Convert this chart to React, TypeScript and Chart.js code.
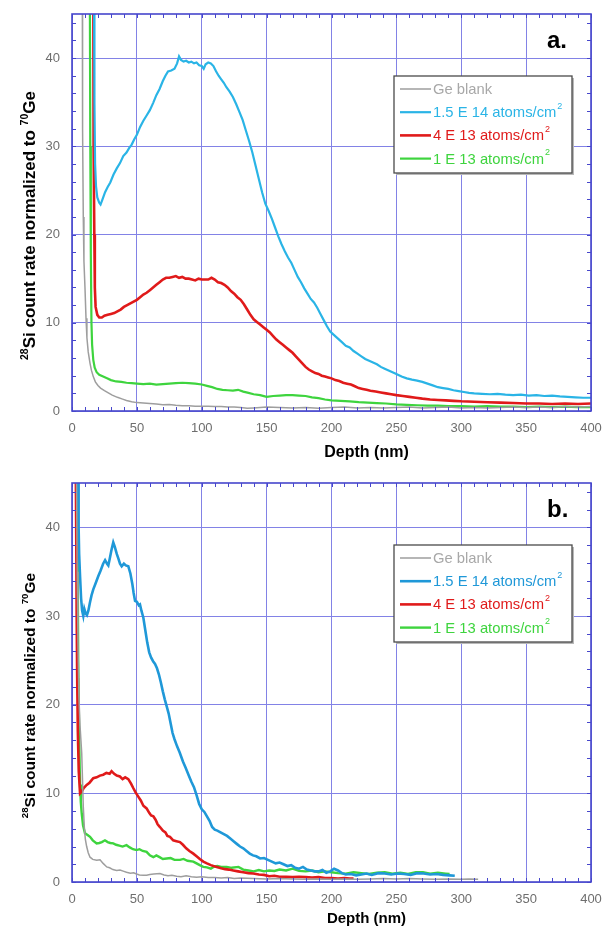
import { useEffect, useRef } from 'react';
import { Chart, registerables } from 'chart.js';

Chart.register(...registerables);

// ---------- data ----------
const LEGEND_LABELS = ['Ge blank', '1.5 E 14 atoms/cm', '4 E 13 atoms/cm', '1 E 13 atoms/cm'];
const LEGEND_SUPS = ['', '2', '2', '2'];
const X_TITLE = 'Depth (nm)';
const Y_TITLE_PARTS = [
  { text: '28', sup: true },
  { text: 'Si count rate normalized to ', sup: false },
  { text: '70', sup: true },
  { text: 'Ge', sup: false },
];
const PANEL_LABELS = ['a.', 'b.'];

type P = [number, number];

const aGrey: P[] = [
  [7.8, 60], [8, 45], [8.3, 32], [8.7, 22], [9.2, 17], [10, 14], [10.8, 10.5], [11.5, 8.3], [12.5, 6.7], [13.9, 5.4],
  [15, 4.6], [16.4, 3.9], [18, 3.3], [20, 2.9], [22, 2.6], [25, 2.3], [28, 2.05], [31, 1.8], [35, 1.55], [39, 1.35],
  [42, 1.2], [46, 1.05], [50, 0.95], [55, 0.9], [60, 0.85], [65, 0.8], [70, 0.7], [75, 0.75], [80, 0.65], [85, 0.6],
  [90, 0.6], [95, 0.55], [100, 0.55], [105, 0.55], [110, 0.5], [115, 0.5], [120, 0.45], [125, 0.45], [130, 0.4], [135, 0.3],
  [140, 0.35], [145, 0.4], [150, 0.45], [160, 0.4], [170, 0.35], [180, 0.4], [190, 0.3], [200, 0.4], [210, 0.45], [220, 0.35],
  [230, 0.4], [240, 0.35], [250, 0.4], [260, 0.45], [270, 0.35], [280, 0.4], [290, 0.45], [300, 0.35], [310, 0.4], [320, 0.35],
  [330, 0.4], [340, 0.45], [350, 0.4], [360, 0.45], [370, 0.4], [380, 0.5], [390, 0.45], [400, 0.5],
];

const aBlue: P[] = [
  [16.8, 60], [17, 45], [17.3, 35], [17.8, 28], [18.5, 25.5], [19.5, 24.2], [21, 23.6], [22, 23.4], [23.5, 24], [25.5, 24.8],
  [27.5, 25.4], [29.5, 25.9], [32, 26.8], [34.5, 27.5], [37, 28.1], [39.5, 28.9], [42, 29.3], [44, 29.8], [46, 30.2], [48, 30.8],
  [50, 31.3], [52.5, 32.2], [55, 32.9], [57.5, 33.5], [60, 34.1], [62.5, 34.9], [65, 35.8], [67.5, 36.5], [70, 37.4], [72, 38.0],
  [74, 38.5], [76.5, 38.6], [79, 38.8], [81, 39.4], [82.5, 40.2], [84, 39.8], [86, 39.6], [88, 39.7], [90, 39.5], [92, 39.6],
  [94, 39.4], [96, 39.5], [98, 39.2], [100, 39.1], [101.5, 38.8], [103, 39.3], [105, 39.5], [107, 39.4], [109, 39.1], [111, 38.5],
  [113, 38.0], [115, 37.6], [117, 37.2], [119, 36.7], [121.5, 36.2], [124, 35.6], [126.5, 34.8], [129, 33.9], [131.5, 33.0], [134, 31.8],
  [136.5, 30.6], [139, 29.3], [141.5, 27.8], [144, 26.3], [146.5, 24.8], [149, 23.5], [151.5, 22.7], [154, 21.8], [156.5, 20.8], [159, 19.8],
  [161.5, 18.9], [164, 18.1], [166.5, 17.4], [169, 16.8], [171.5, 16.0], [174, 15.2], [176.5, 14.6], [179, 13.9], [181.5, 13.3], [184, 12.7],
  [186.5, 12.3], [189, 11.7], [191.5, 11.0], [194, 10.3], [196.5, 9.6], [199, 9.0], [202, 8.6], [205, 8.2], [208, 7.8], [211, 7.4],
  [214, 7.2], [217, 6.8], [220, 6.5], [223, 6.2], [226, 5.9], [229, 5.7], [232, 5.5], [235, 5.3], [238, 5.0], [241, 4.8],
  [244, 4.6], [247, 4.4], [250, 4.2], [254, 3.9], [258, 3.7], [262, 3.55], [266, 3.45], [270, 3.3], [274, 3.1], [278, 2.9],
  [282, 2.7], [286, 2.6], [290, 2.5], [294, 2.35], [298, 2.25], [302, 2.15], [306, 2.05], [310, 2.0], [316, 1.95], [322, 1.9],
  [328, 1.95], [334, 1.85], [340, 1.8], [346, 1.85], [352, 1.75], [358, 1.8], [364, 1.7], [370, 1.75], [376, 1.65], [382, 1.6],
  [388, 1.55], [394, 1.5], [400, 1.5],
];

const aRed: P[] = [
  [16.3, 60], [16.5, 45], [16.8, 30], [17.2, 20], [17.6, 14], [18.2, 11.8], [19.5, 10.9], [21, 10.6], [23, 10.6], [25, 10.8],
  [27.5, 10.9], [30, 11.0], [32.5, 11.1], [35, 11.3], [37.5, 11.5], [40, 11.8], [42.5, 12.0], [45, 12.2], [47.5, 12.4], [50, 12.6],
  [52.5, 12.9], [55, 13.2], [57.5, 13.4], [60, 13.7], [62.5, 14.0], [65, 14.3], [67.5, 14.6], [70, 14.9], [72.5, 15.1], [75, 15.1],
  [77.5, 15.2], [80, 15.3], [82.5, 15.1], [85, 15.2], [87.5, 15.0], [90, 15.0], [92.5, 14.9], [95, 14.8], [97.5, 15.0], [100, 14.9],
  [102.5, 14.9], [105, 14.9], [107.5, 15.1], [110, 14.9], [112.5, 14.6], [115, 14.5], [117.5, 14.3], [120, 14.0], [122.5, 13.6], [125, 13.3],
  [127.5, 12.9], [130, 12.6], [132.5, 12.1], [135, 11.5], [137.5, 10.9], [140, 10.4], [142.5, 10.1], [145, 9.8], [147.5, 9.5], [150, 9.2],
  [152.5, 8.9], [155, 8.5], [157.5, 8.1], [160, 7.8], [162.5, 7.5], [165, 7.2], [167.5, 6.9], [170, 6.6], [172.5, 6.2], [175, 5.8],
  [177.5, 5.4], [180, 5.0], [182.5, 4.7], [185, 4.5], [187.5, 4.3], [190, 4.2], [192.5, 4.0], [195, 3.9], [197.5, 3.8], [200, 3.7],
  [203, 3.5], [206, 3.4], [209, 3.2], [212, 3.1], [215, 3.0], [218, 2.8], [221, 2.6], [224, 2.5], [227, 2.4], [230, 2.3],
  [234, 2.2], [238, 2.1], [242, 2.0], [246, 1.9], [250, 1.8], [255, 1.7], [260, 1.6], [265, 1.5], [270, 1.4], [276, 1.3],
  [282, 1.25], [288, 1.2], [294, 1.15], [300, 1.1], [310, 1.05], [320, 1.0], [330, 0.95], [340, 0.9], [350, 0.85], [360, 0.85],
  [370, 0.8], [380, 0.85], [390, 0.8], [400, 0.85],
];

const aGreen: P[] = [
  [13.6, 60], [13.8, 45], [14.1, 30], [14.5, 18], [15, 10], [15.5, 7.5], [16.4, 5.8], [17.5, 4.9], [19, 4.4], [21, 4.1],
  [24, 3.9], [27, 3.7], [30, 3.5], [34, 3.35], [38, 3.3], [42, 3.2], [46, 3.15], [50, 3.1], [55, 3.05], [60, 3.1],
  [65, 3.0], [70, 3.05], [75, 3.1], [80, 3.15], [85, 3.2], [90, 3.15], [95, 3.1], [100, 3.0], [104, 2.85], [108, 2.7],
  [112, 2.5], [116, 2.4], [120, 2.35], [124, 2.3], [128, 2.4], [132, 2.2], [136, 2.05], [140, 1.9], [145, 1.8], [150, 1.6],
  [155, 1.7], [160, 1.75], [165, 1.8], [170, 1.8], [175, 1.75], [180, 1.7], [185, 1.55], [190, 1.45], [195, 1.3], [200, 1.2],
  [207, 1.15], [214, 1.1], [221, 1.0], [228, 0.95], [235, 0.9], [242, 0.85], [250, 0.75], [258, 0.7], [266, 0.65], [274, 0.6],
  [282, 0.6], [290, 0.55], [300, 0.55], [310, 0.5], [320, 0.55], [330, 0.5], [340, 0.5], [350, 0.45], [360, 0.5], [370, 0.45],
  [380, 0.5], [390, 0.45], [400, 0.45],
];

const bGrey: P[] = [
  [3.2, 60], [3.5, 45], [4, 35], [4.6, 27], [5.3, 21], [6.2, 17.6], [7.5, 14.5], [8.2, 11], [8.7, 8.5], [9.5, 6.2],
  [10.3, 4.8], [11.3, 4.0], [12.5, 3.3], [13.9, 2.8], [16, 2.55], [19, 2.45], [21.6, 2.5], [24, 2.1], [26.8, 1.7], [29, 1.6],
  [31.5, 1.4], [34.4, 1.3], [37, 1.35], [40, 1.2], [42, 1.1], [45, 1.0], [47.5, 1.05], [49.8, 0.9], [52, 0.8], [55, 0.75],
  [57.5, 0.76], [60, 0.85], [63, 0.9], [67.8, 0.95], [71, 0.8], [74, 0.7], [77, 0.75], [80.7, 0.65], [84, 0.6], [88, 0.7],
  [92, 0.6], [96, 0.55], [100, 0.6], [105, 0.5], [110, 0.5], [115, 0.45], [120, 0.5], [125, 0.4], [130, 0.45], [140, 0.4],
  [150, 0.35], [160, 0.4], [170, 0.35], [180, 0.3], [190, 0.35], [200, 0.3], [210, 0.35], [220, 0.3], [230, 0.35], [240, 0.4],
  [250, 0.35], [260, 0.4], [270, 0.35], [280, 0.3], [290, 0.35], [300, 0.3], [306, 0.35], [313, 0.3],
];

const bBlue: P[] = [
  [4.6, 60], [4.8, 45], [5.1, 40], [5.5, 37], [6.2, 34.5], [7, 32], [7.8, 30.6], [8.7, 30.0], [9.5, 30.8], [10.5, 30.3],
  [11.5, 30.1], [12.6, 30.6], [13.8, 31.5], [15, 32.3], [16.4, 33.0], [18, 33.6], [20.3, 34.5], [22, 35.1], [24, 35.9], [25.5, 36.3],
  [27, 35.9], [28, 35.7], [29, 36.4], [30.5, 37.5], [31.8, 38.3], [33, 37.8], [34.5, 37.0], [35.7, 36.5], [37, 35.9], [38.3, 35.6],
  [40, 35.9], [41.5, 35.7], [43.4, 35.6], [45, 34.8], [46.5, 33.6], [47.5, 32.6], [48.6, 31.7], [50, 31.6], [51.5, 31.2], [52.4, 31.3],
  [53.5, 30.6], [55, 29.8], [56.5, 28.4], [58, 27.0], [59.5, 25.9], [61, 25.3], [62.5, 24.9], [64, 24.6], [65.5, 24.1], [67, 23.4],
  [68.5, 22.5], [70, 21.5], [71.5, 20.6], [73, 19.8], [74.5, 19.0], [76, 17.9], [77.5, 16.8], [79, 16.1], [81, 15.3], [83, 14.6],
  [85.5, 13.6], [87.5, 12.9], [90, 12.0], [92, 11.3], [94, 10.7], [96, 9.8], [98, 8.8], [100, 8.2], [102, 7.9], [104, 7.4],
  [106, 6.9], [108, 6.2], [110, 5.9], [112, 5.8], [114.5, 5.6], [117, 5.4], [119.5, 5.2], [122, 4.9], [124.5, 4.6], [127, 4.3],
  [129.5, 4.0], [132, 3.8], [134.5, 3.5], [137, 3.2], [139.5, 3.0], [142, 2.9], [145, 2.65], [148, 2.7], [151, 2.5], [154, 2.3],
  [157, 2.1], [160, 2.2], [163, 2.0], [166, 1.8], [169, 1.9], [172, 1.6], [175, 1.5], [178, 1.7], [181, 1.4], [184, 1.3],
  [187, 1.2], [190, 1.2], [193, 1.35], [196, 1.05], [199, 1.2], [202, 1.5], [205, 1.3], [208, 1.0], [211, 0.85], [215, 0.9],
  [219, 0.75], [223, 0.85], [227, 0.95], [231, 0.8], [236, 1.0], [241, 0.95], [246, 0.85], [251, 0.95], [256, 0.9], [261, 0.8],
  [266, 1.0], [271, 0.95], [276, 0.85], [281, 0.9], [286, 0.8], [291, 0.75], [295, 0.7],
];

const bRed: P[] = [
  [2.8, 60], [3, 45], [3.3, 38], [3.6, 30], [4, 23], [4.5, 17], [5.2, 12.5], [6.2, 10.0], [7.5, 10.2], [9, 10.6],
  [11.3, 10.95], [13.5, 11.2], [16.4, 11.7], [19, 11.8], [21.5, 12.0], [24.1, 12.1], [26.5, 12.3], [29, 12.2], [30.5, 12.5], [32.5, 12.2],
  [34.5, 12.0], [36.9, 11.9], [39, 11.6], [41, 11.8], [43.4, 11.6], [45.5, 11.1], [47.2, 10.6], [49, 10.1], [51.2, 9.6], [53, 9.2],
  [55, 8.6], [57.5, 8.3], [59.5, 7.8], [61, 7.5], [62.7, 7.4], [64.5, 7.0], [66, 6.5], [67.8, 6.2], [70, 5.8], [72, 5.6],
  [73.5, 5.2], [75.5, 5.1], [78, 4.7], [80.5, 4.6], [83.2, 4.5], [85.5, 4.2], [88, 3.8], [90.5, 3.5], [93.5, 3.2], [96, 2.9],
  [98.5, 2.6], [101.2, 2.3], [104, 2.1], [107, 1.9], [109, 1.8], [111.5, 1.7], [115, 1.55], [118, 1.45], [121, 1.4], [124.3, 1.3],
  [128, 1.2], [132, 1.1], [136, 1.0], [139.7, 0.95], [144, 0.85], [148, 0.8], [152, 0.65], [156, 0.7], [160, 0.6], [165, 0.6],
  [170, 0.55], [175, 0.6], [180, 0.55], [185, 0.5], [190, 0.55], [195, 0.45], [200, 0.45], [205, 0.4], [210, 0.45], [214, 0.4],
  [217, 0.4],
];

const bGreen: P[] = [
  [3.8, 60], [4.2, 40], [4.8, 25], [5.5, 16], [6.2, 11], [6.8, 9.0], [7.5, 7.7], [8.5, 6.4], [10, 5.5], [12, 5.3],
  [13.9, 5.1], [16, 4.7], [19, 4.35], [21, 4.4], [23, 4.5], [25.4, 4.7], [27.5, 4.5], [29.5, 4.4], [31.8, 4.35], [34, 4.2],
  [36.5, 4.1], [39, 4.0], [42, 4.15], [44.5, 3.9], [47, 3.7], [49.8, 3.6], [52, 3.7], [54.5, 3.5], [57.5, 3.4], [60, 3.0],
  [62.7, 2.8], [65, 3.0], [67.5, 2.8], [70, 2.6], [73, 2.65], [76, 2.7], [79, 2.5], [83.2, 2.5], [86, 2.6], [89, 2.4],
  [93.5, 2.3], [96, 2.1], [98.5, 1.9], [101.2, 1.7], [104, 1.65], [107, 1.5], [109, 1.7], [112, 1.8], [115, 1.7], [119.2, 1.7],
  [123, 1.6], [128.3, 1.7], [132, 1.4], [136, 1.3], [140, 1.2], [144, 1.35], [148, 1.2], [152, 1.3], [156, 1.25], [160, 1.4],
  [165, 1.3], [170, 1.5], [175, 1.25], [180, 1.2], [185, 1.3], [190, 1.1], [195, 1.2], [200, 1.1], [205, 1.0], [211, 0.95],
  [217, 1.1], [223, 1.0], [229, 0.9], [235, 1.05], [241, 1.1], [247, 0.95], [253, 1.05], [259, 0.9], [265, 1.1], [270.5, 1.1],
  [276, 0.95], [282, 1.05], [288, 0.95], [291, 0.9],
];

// ---------- styles ----------
const GREY = '#9e9e9e';
const BLUE_A = '#2ab4e6';
const BLUE_B = '#1f98d8';
const RED = '#e01a1a';
const GREEN = '#3ed43e';
const LEGEND_TEXT_GREY = '#a8a8a8';
const GRID = '#8282e6';
const FRAME = '#4646cc';
const TICK_TEXT = '#6e6e6e';

type Panel = {
  series: P[][];
  colors: string[];
  widths: number[];
  label: string;
  height: number;
  padTop: number;
  xAxisH: number;
  xTitleDy: number;
  titleSize: number;
  yTitleSize: number;
};

const panels: Panel[] = [
  {
    series: [aGrey, aBlue, aRed, aGreen],
    colors: [GREY, BLUE_A, RED, GREEN],
    widths: [1.5, 2.2, 2.6, 2.2],
    label: PANEL_LABELS[0],
    height: 465,
    padTop: 14,
    xAxisH: 54,
    xTitleDy: 42,
    titleSize: 16,
    yTitleSize: 17,
  },
  {
    series: [bGrey, bBlue, bRed, bGreen],
    colors: [GREY, BLUE_B, RED, GREEN],
    widths: [1.5, 2.6, 2.6, 2.4],
    label: PANEL_LABELS[1],
    height: 462,
    padTop: 18,
    xAxisH: 45,
    xTitleDy: 37,
    titleSize: 15,
    yTitleSize: 15.5,
  },
];

const FONT = 'Arial, "Liberation Sans", Helvetica, sans-serif';

function drawRich(
  ctx: CanvasRenderingContext2D,
  parts: { text: string; sup: boolean }[],
  cx: number,
  cy: number,
  size: number,
  rotate: boolean,
  color: string
) {
  ctx.save();
  ctx.translate(cx, cy);
  if (rotate) ctx.rotate(-Math.PI / 2);
  ctx.fillStyle = color;
  ctx.textBaseline = 'alphabetic';
  ctx.textAlign = 'left';
  const supSize = size * 0.62;
  let total = 0;
  const widths: number[] = [];
  for (const p of parts) {
    ctx.font = `bold ${p.sup ? supSize : size}px ${FONT}`;
    const w = ctx.measureText(p.text).width;
    widths.push(w);
    total += w;
  }
  let x = -total / 2;
  parts.forEach((p, i) => {
    ctx.font = `bold ${p.sup ? supSize : size}px ${FONT}`;
    ctx.fillText(p.text, x, p.sup ? -size * 0.42 : 0);
    x += widths[i];
  });
  ctx.restore();
}

function makeDecor(panel: Panel) {
  return {
    id: 'decor',
    afterDraw(chart: any) {
      const ctx: CanvasRenderingContext2D = chart.ctx;
      const { left, right, top, bottom } = chart.chartArea;
      const xs = chart.scales.x;
      const ys = chart.scales.y;
      ctx.save();
      // frame
      ctx.strokeStyle = FRAME;
      ctx.lineWidth = 1.6;
      ctx.strokeRect(left, top, right - left, bottom - top);
      // minor ticks
      ctx.lineWidth = 1;
      ctx.beginPath();
      for (let v = 0; v <= 400; v += 10) {
        const px = Math.round(xs.getPixelForValue(v)) + 0.5;
        ctx.moveTo(px, bottom);
        ctx.lineTo(px, bottom - 4);
        ctx.moveTo(px, top);
        ctx.lineTo(px, top + 4);
      }
      for (let v = 0; v <= 45; v += 2) {
        const py = Math.round(ys.getPixelForValue(v)) + 0.5;
        ctx.moveTo(left, py);
        ctx.lineTo(left + 4, py);
        ctx.moveTo(right, py);
        ctx.lineTo(right - 4, py);
      }
      ctx.stroke();

      // legend
      const bx = 394;
      const by = top + 62;
      const bw = 178;
      const bh = 97;
      ctx.fillStyle = '#b8b8b8';
      ctx.fillRect(bx + 2, by + 2, bw, bh);
      ctx.fillStyle = '#ffffff';
      ctx.fillRect(bx, by, bw, bh);
      ctx.strokeStyle = '#4a4a4a';
      ctx.lineWidth = 1.3;
      ctx.strokeRect(bx, by, bw, bh);
      LEGEND_LABELS.forEach((lab, i) => {
        const ry = by + 13 + i * 23.2;
        ctx.strokeStyle = panel.colors[i];
        ctx.lineWidth = panel.widths[i];
        ctx.beginPath();
        ctx.moveTo(bx + 6, ry);
        ctx.lineTo(bx + 37, ry);
        ctx.stroke();
        ctx.fillStyle = i === 0 ? LEGEND_TEXT_GREY : panel.colors[i];
        ctx.font = `14.8px ${FONT}`;
        ctx.textAlign = 'left';
        ctx.textBaseline = 'middle';
        ctx.fillText(lab, bx + 39, ry + 1);
        if (LEGEND_SUPS[i]) {
          const w = ctx.measureText(lab).width;
          ctx.font = `9px ${FONT}`;
          ctx.fillText(LEGEND_SUPS[i], bx + 39 + w + 1, ry - 6);
        }
      });

      // panel label
      ctx.fillStyle = '#000';
      ctx.font = `bold 24px ${FONT}`;
      ctx.textAlign = 'left';
      ctx.textBaseline = 'alphabetic';
      ctx.fillText(panel.label, 547, top + 34);

      // axis titles
      ctx.font = `bold ${panel.titleSize}px ${FONT}`;
      ctx.textAlign = 'center';
      ctx.textBaseline = 'middle';
      ctx.fillStyle = '#000';
      ctx.fillText(X_TITLE, (left + right) / 2 + 35, bottom + panel.xTitleDy);
      drawRich(ctx, Y_TITLE_PARTS, 35, (top + bottom) / 2 + 13, panel.yTitleSize, true, '#000');
      ctx.restore();
    },
  };
}

function makeConfig(panel: Panel): any {
  return {
    type: 'line',
    data: {
      datasets: panel.series.map((s, i) => ({
        label: LEGEND_LABELS[i],
        data: s.map(([x, y]) => ({ x, y })),
        borderColor: panel.colors[i],
        borderWidth: panel.widths[i],
        pointRadius: 0,
        tension: 0,
        fill: false,
      })),
    },
    options: {
      animation: false,
      responsive: false,
      events: [],
      layout: { padding: { top: panel.padTop, right: 12, left: 0, bottom: 0 } },
      plugins: { legend: { display: false }, tooltip: { enabled: false } },
      scales: {
        x: {
          type: 'linear',
          min: 0,
          max: 400,
          ticks: { stepSize: 50, color: TICK_TEXT, font: { family: FONT, size: 13 }, padding: 10, maxRotation: 0 },
          grid: { color: GRID, lineWidth: 1, drawTicks: false },
          border: { display: false },
          afterFit: (s: any) => {
            s.height = panel.xAxisH;
            s.paddingLeft = 0;
            s.paddingRight = 0;
          },
        },
        y: {
          type: 'linear',
          min: 0,
          max: 45,
          ticks: { stepSize: 10, color: TICK_TEXT, font: { family: FONT, size: 13 }, padding: 12 },
          grid: { color: GRID, lineWidth: 1, drawTicks: false },
          border: { display: false },
          afterBuildTicks: (s: any) => {
            s.ticks = s.ticks.filter((t: any) => t.value % 10 === 0);
          },
          afterFit: (s: any) => {
            s.width = 72;
            s.paddingTop = 0;
            s.paddingBottom = 0;
          },
        },
      },
    },
    plugins: [makeDecor(panel)],
  };
}

function PanelChart({ panel, top }: { panel: Panel; top: number }) {
  const ref = useRef<HTMLCanvasElement | null>(null);
  useEffect(() => {
    if (!ref.current) return;
    const chart = new Chart(ref.current, makeConfig(panel));
    return () => chart.destroy();
  }, [panel]);
  return (
    <canvas
      ref={ref}
      width={603}
      height={panel.height}
      style={{ position: 'absolute', left: 0, top, width: 603, height: panel.height, display: 'block' }}
    />
  );
}

export default function App() {
  return (
    <div style={{ position: 'absolute', left: 0, top: 0, width: 603, height: 927, background: '#fff', overflow: 'hidden' }}>
      <PanelChart panel={panels[0]} top={0} />
      <PanelChart panel={panels[1]} top={465} />
    </div>
  );
}
